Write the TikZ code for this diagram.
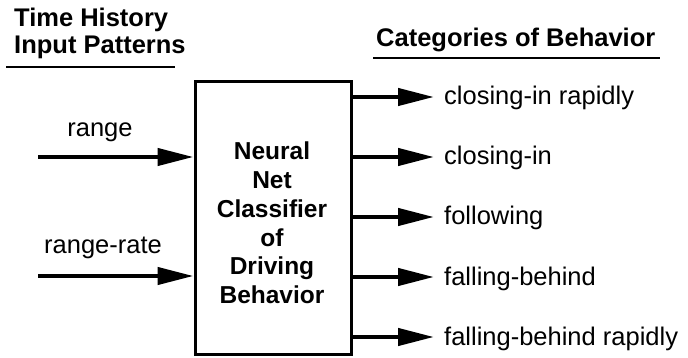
\documentclass[tikz,border=0pt]{standalone}
\usepackage{fontspec}
\setmainfont{Liberation Sans}
\usetikzlibrary{arrows.meta}
\begin{document}
\begin{tikzpicture}[x=1pt,y=-1pt,
  title/.style={font=\bfseries\fontsize{25.5}{27}\selectfont, inner sep=0pt, align=left},
  lbl/.style={font=\fontsize{25.5}{29}\selectfont, inner sep=0pt},
  boxtext/.style={font=\bfseries\fontsize{24.5}{28.8}\selectfont, align=center},
  arr/.style={line width=4.3pt, -{Triangle[length=36pt,width=17pt]}},
  uline/.style={line width=2.5pt}]
\useasboundingbox (0,0) rectangle (688,358);
% titles
\node[title, anchor=base west] (t1) at (14,27) {Time History};
\node[title, anchor=base west] (t2) at (14,54) {Input Patterns};
\draw[uline] (6,67) -- (175,67);
\node[title, anchor=base west] (t3) at (376,47) {Categories of Behavior};
\draw[uline] (373,58) -- (660,58);
% box
\node[draw, line width=3pt, minimum width=156pt, minimum height=272pt, inner sep=0pt] (box) at (273,218) {};
\node[boxtext] (bt) at (272,223) {Neural\\Net\\Classifier\\of\\Driving\\Behavior};
% inputs
\coordinate (in1) at (38,157);
\coordinate (in2) at (38,276);
\draw[arr] (in1) -- (box.west |- in1);
\draw[arr] (in2) -- (box.west |- in2);
\node[lbl, anchor=base] (l1) at (100,137) {range};
\node[lbl, anchor=base] (l2) at (103,253) {range-rate};
% outputs
\foreach \y/\t/\n in {97/closing-in rapidly/o1, 157/closing-in/o2, 217/following/o3, 277/falling-behind/o4, 337/falling-behind rapidly/o5}{
  \coordinate (\n e) at (434,\y);
  \draw[arr] (box.east |- \n e) -- (\n e);
  \node[lbl, anchor=base west] (\n) at (444,\y+8) {\t};
}
\end{tikzpicture}
\end{document}
